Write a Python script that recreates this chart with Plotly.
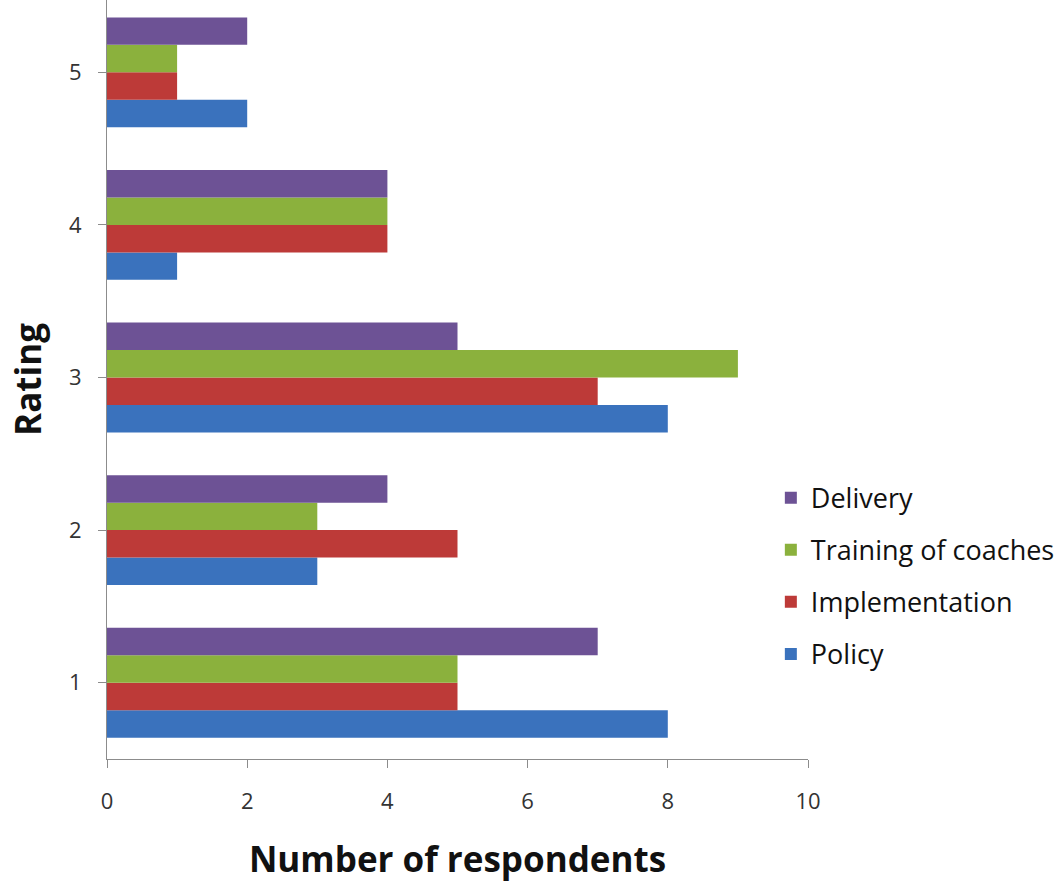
import plotly.graph_objects as go

ratings = [1, 2, 3, 4, 5]
rating_labels = ["1", "2", "3", "4", "5"]
series_names = ["Policy", "Implementation", "Training of coaches", "Delivery"]
policy = [8, 3, 8, 1, 2]
implementation = [5, 5, 7, 4, 1]
training = [5, 3, 9, 4, 1]
delivery = [7, 4, 5, 4, 2]
colors = ["#3A72BD", "#BD3A38", "#8BB13D", "#6D5295"]
legend_ranks = [4, 3, 2, 1]

values = [policy, implementation, training, delivery]

fig = go.Figure()
for name, vals, col, rank in zip(series_names, values, colors, legend_ranks):
    fig.add_trace(go.Bar(
        y=ratings, x=vals, name=name, orientation="h",
        marker=dict(color=col, line=dict(width=0)),
        legendgroup=name, legendrank=rank,
    ))

FONT = "Open Sans"
fig.update_layout(
    width=1060, height=882,
    margin=dict(l=107, r=252, t=0, b=123),
    paper_bgcolor="white", plot_bgcolor="white",
    barmode="group", bargap=0.28, bargroupgap=0,
    font=dict(family=FONT, color="#222222"),
    showlegend=True,
    legend=dict(
        x=0.947, xanchor="left", y=0.241, yanchor="middle",
        traceorder="grouped", tracegroupgap=14,
        font=dict(size=27, family=FONT, color="#111111"),
        itemwidth=30,
    ),
    xaxis=dict(
        range=[0, 10], tickvals=[0, 2, 4, 6, 8, 10],
        showgrid=False, zeroline=False,
        showline=True, linecolor="#8c8c8c", linewidth=1,
        ticks="outside", ticklen=8, tickcolor="#8c8c8c",
        tickfont=dict(size=22, family=FONT, color="#333333"),
        ticklabelstandoff=15,
        title=dict(text="<b>Number of respondents</b>", font=dict(size=35, family=FONT, color="#111111"), standoff=36),
    ),
    yaxis=dict(
        range=[0.5, 5.474],
        tickvals=ratings, ticktext=rating_labels,
        tickson="boundaries",
        showgrid=False, zeroline=False,
        showline=True, linecolor="#8c8c8c", linewidth=1,
        ticks="outside", ticklen=8, tickcolor="#8c8c8c",
        tickfont=dict(size=22, family=FONT, color="#333333"),
        ticklabelstandoff=12,
        title=dict(text="<b>Rating</b>", font=dict(size=35, family=FONT, color="#111111"), standoff=16),
    ),
)

fig.write_html("out.html")
